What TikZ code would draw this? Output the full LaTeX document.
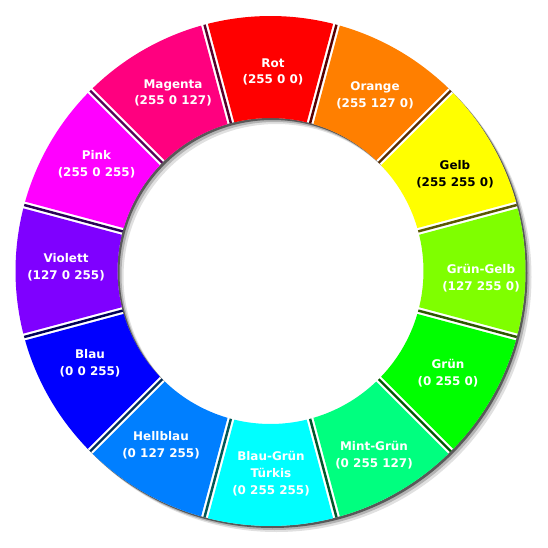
\documentclass[tikz,border=0pt]{standalone}
\usepackage{fontspec}
\setmainfont{DejaVu Sans}

\definecolor{wRot}{RGB}{255,0,0}
\definecolor{wOrange}{RGB}{255,127,0}
\definecolor{wGelb}{RGB}{255,255,0}
\definecolor{wGruenGelb}{RGB}{127,255,0}
\definecolor{wGruen}{RGB}{0,255,0}
\definecolor{wMint}{RGB}{0,255,127}
\definecolor{wTuerkis}{RGB}{0,255,255}
\definecolor{wHellblau}{RGB}{0,127,255}
\definecolor{wBlau}{RGB}{0,0,255}
\definecolor{wViolett}{RGB}{127,0,255}
\definecolor{wPink}{RGB}{255,0,255}
\definecolor{wMagenta}{RGB}{255,0,127}

\begin{document}
\begin{tikzpicture}[
    x=0.02cm, y=0.02cm,
    every node/.style={font=\bfseries\fontsize{6.8}{9.6}\selectfont},
    colname/.style={text=white, align=center},
    seg/.style={fill=#1},
    gapline/.style={draw=#1!35!black, line width=1.4pt},
    rim/.style={fill=black!#1, even odd rule},
    ring part/.style={insert path={
        (#1+1.31:153) -- (#1+0.79:255)
        arc[start angle=#1+0.79, end angle=#1+29.21, radius=255]
        -- (#1+28.69:153)
        arc[start angle=#1+28.69, end angle=#1+1.31, radius=153] -- cycle}}
]

    \useasboundingbox[fill=white] (-270.5,-277) rectangle (277.5,271);

    % Shadow of the ring
    \begin{scope}[even odd rule]
        \clip (-270.5,-277) rectangle (277.5,271)
            (0,0) circle[radius=255] (0,0) circle[radius=153];
        \fill[rim=12] (6,-6) circle[radius=255] (6,-6) circle[radius=153];
        \fill[rim=30] (4,-4) circle[radius=255] (4,-4) circle[radius=153];
        \fill[rim=65] (2,-2) circle[radius=255] (2,-2) circle[radius=153];
    \end{scope}

    % Rot
    \fill[seg=wRot, ring part=75];
    \draw[gapline=wRot] (75:153) -- (75:255);
    \node[colname] (rot) at (2.5,199) {Rot\\(255 0 0)};

    % Magenta
    \fill[seg=wMagenta, ring part=105];
    \draw[gapline=wMagenta] (105:153) -- (105:255);
    \node[colname] (magenta) at (-97.5,178) {Magenta\\(255 0 127)};

    % Pink
    \fill[seg=wPink, ring part=135];
    \draw[gapline=wPink] (135:153) -- (135:255);
    \node[colname] (pink) at (-174,107) {Pink\\(255 0 255)};

    % Violett
    \fill[seg=wViolett, ring part=165];
    \draw[gapline=wViolett] (165:153) -- (165:255);
    \node[colname] (violett) at (-204.5,4) {Violett\\(127 0 255)};

    % Blau
    \fill[seg=wBlau, ring part=195];
    \draw[gapline=wBlau] (195:153) -- (195:255);
    \node[colname] (blau) at (-180.5,-92) {Blau\\(0 0 255)};

    % Hellblau
    \fill[seg=wHellblau, ring part=225];
    \draw[gapline=wHellblau] (225:153) -- (225:255);
    \node[colname] (hellblau) at (-109.5,-174) {Hellblau\\(0 127 255)};

    % Blau-Gruen / Tuerkis
    \fill[seg=wTuerkis, ring part=255];
    \draw[gapline=wTuerkis] (255:153) -- (255:255);
    \node[colname] (tuerkis) at (0.5,-203) {Blau-Grün\\Türkis\\(0 255 255)};

    % Mint-Gruen
    \fill[seg=wMint, ring part=285];
    \draw[gapline=wMint] (285:153) -- (285:255);
    \node[colname] (mint) at (103.5,-184) {Mint-Grün\\(0 255 127)};

    % Gruen
    \fill[seg=wGruen, ring part=315];
    \draw[gapline=wGruen] (315:153) -- (315:255);
    \node[colname] (gruen) at (177.5,-102) {Grün\\(0 255 0)};

    % Gruen-Gelb
    \fill[seg=wGruenGelb, ring part=-15];
    \draw[gapline=wGruenGelb] (-15:153) -- (-15:255);
    \node[colname] (gruengelb) at (210.5,-7) {Grün-Gelb\\(127 255 0)};

    % Gelb
    \fill[seg=wGelb, ring part=15];
    \draw[gapline=wGelb] (15:153) -- (15:255);
    \node[colname, text=black] (gelb) at (184.5,97) {Gelb\\(255 255 0)};

    % Orange
    \fill[seg=wOrange, ring part=45];
    \draw[gapline=wOrange] (45:153) -- (45:255);
    \node[colname] (orange) at (104.5,176) {Orange\\(255 127 0)};

\end{tikzpicture}
\end{document}
